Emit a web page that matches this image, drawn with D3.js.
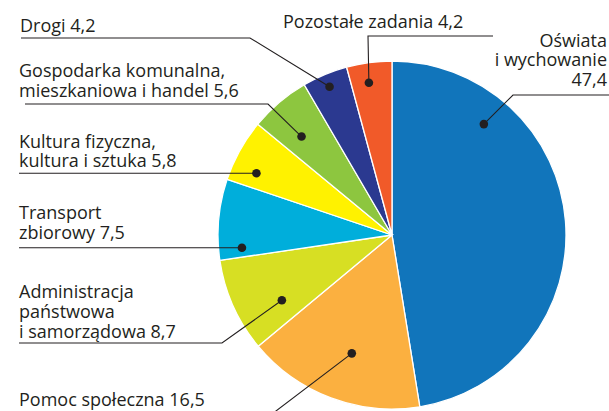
<!DOCTYPE html>
<html><head><meta charset="utf-8">
<script src="https://cdn.jsdelivr.net/npm/d3@7"></script>
<style>body{margin:0;background:#fff}svg{display:block}</style>
</head><body>
<svg id="c" width="609" height="411"></svg>
<script>
const categories = ["Oświata i wychowanie","Pomoc społeczna","Administracja państwowa i samorządowa","Transport zbiorowy","Kultura fizyczna, kultura i sztuka","Gospodarka komunalna, mieszkaniowa i handel","Drogi","Pozostałe zadania"];
const values = [47.4,16.5,8.7,7.5,5.8,5.6,4.2,4.2];
const valueLabels = ["47,4","16,5","8,7","7,5","5,8","5,6","4,2","4,2"];
const labelLines = [
  ["Oświata","i wychowanie","47,4"],
  ["Pomoc społeczna 16,5"],
  ["Administracja","państwowa","i samorządowa 8,7"],
  ["Transport","zbiorowy 7,5"],
  ["Kultura fizyczna,","kultura i sztuka 5,8"],
  ["Gospodarka komunalna,","mieszkaniowa i handel 5,6"],
  ["Drogi 4,2"],
  ["Pozostałe zadania 4,2"]
];
const colors = ["#1175BB","#FBB040","#D7DF23","#00AEDB","#FFF200","#8DC63F","#2B3990","#F15A29"];

// annotation layout (not data)
const layout = [
  {frac:0.232, r:144, elbow:[513,95], end:609, anchor:"end", tx:607, ty:[47,66,86]},
  {frac:0.47, r:125, elbow:[272,414], end:19, anchor:"start", tx:19, ty:[406]},
  {frac:0.29, r:128, elbow:[222,343], end:19, anchor:"start", tx:19, ty:[298,318,338]},
  {frac:0.13, r:150.6, elbow:null, end:19, anchor:"start", tx:19, ty:[219,239]},
  {frac:0.28, r:149, elbow:null, end:19, anchor:"start", tx:19, ty:[148,167]},
  {frac:0.39, r:133.7, elbow:[268,104], end:25, anchor:"start", tx:19, ty:[77,97]},
  {frac:0.49, r:160.8, elbow:[250,38], end:21, anchor:"start", tx:20, ty:[32]},
  {frac:0.43, r:154, elbow:[368,36], end:493, anchor:"start", tx:283, ty:[28]}
];

const cx = 392, cy = 235, R = 174;
const svg = d3.select("#c");
const g = svg.append("g").attr("transform",`translate(${cx},${cy})`);
const pie = d3.pie().sort(null).value(d=>d)(values);
const arc = d3.arc().innerRadius(0).outerRadius(R);
g.selectAll("path.s").data(pie).join("path").attr("class","s")
  .attr("d",arc).attr("fill",(d,i)=>colors[i]).attr("stroke","#fff").attr("stroke-width",1.3);

const ink = "#231F20";
pie.forEach((d,i)=>{
  const L = layout[i];
  const a = d.startAngle + (d.endAngle-d.startAngle)*L.frac;
  const px = cx + L.r*Math.sin(a), py = cy - L.r*Math.cos(a);
  let pts = [[px,py]];
  if (L.elbow) { pts.push(L.elbow); pts.push([L.end, L.elbow[1]]); }
  else pts.push([L.end, py]);
  svg.append("path").attr("d", d3.line()(pts)).attr("fill","none").attr("stroke",ink).attr("stroke-width",1.1);
  svg.append("circle").attr("cx",px).attr("cy",py).attr("r",4.3).attr("fill",ink);
  const t = svg.append("text").attr("font-family","'Open Sans', sans-serif").attr("font-size",18)
    .attr("fill",ink).attr("text-anchor",L.anchor);
  labelLines[i].forEach((s,k)=>{
    t.append("tspan").attr("x",L.tx).attr("y",L.ty[k]).text(s);
  });
});
</script>
</body></html>
